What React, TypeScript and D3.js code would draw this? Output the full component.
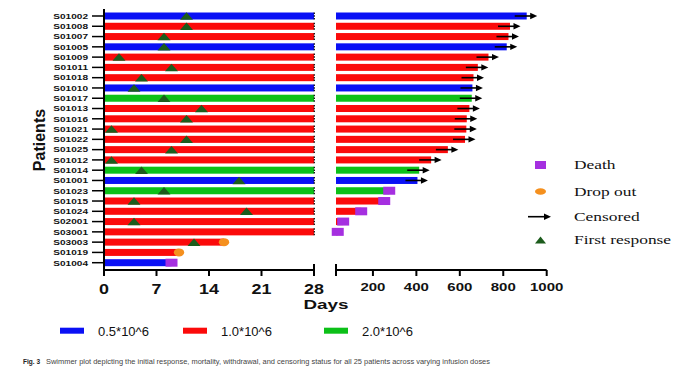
import * as d3 from "d3";

const patients = [
  "S01002", "S01008", "S01007", "S01005", "S01009", "S01011", "S01018", "S01010",
  "S01017", "S01013", "S01016", "S01021", "S01022", "S01025", "S01012", "S01014",
  "S01001", "S01023", "S01015", "S01024", "S02001", "S03001", "S03003", "S01019", "S01004",
];
const doses = [
  "0.5", "1.0", "1.0", "0.5", "1.0", "1.0", "1.0", "0.5",
  "2.0", "1.0", "1.0", "1.0", "1.0", "1.0", "1.0", "2.0",
  "0.5", "2.0", "1.0", "1.0", "1.0", "1.0", "1.0", "1.0", "0.5",
];
const endDays = [
  908, 831, 824, 816, 732, 683, 663, 658, 655, 644, 632, 630, 624, 545, 468, 413,
  405, 275, 252, 146, 63, 38, 16, 10, 9,
];
const responseDays = [
  11, 11, 8, 8, 2, 9, 5, 4, 8, 13, 11, 1, 11, 9, 1, 5, 18, 8, 4, 19, 4, null, 12, null, null,
];
const outcomes = [
  "censored", "censored", "censored", "censored", "censored", "censored", "censored", "censored",
  "censored", "censored", "censored", "censored", "censored", "censored", "censored", "censored",
  "censored", "death", "death", "death", "death", "death", "dropout", "dropout", "death",
];
const leftTicks = [0, 7, 14, 21, 28];
const rightTicks = [200, 400, 600, 800, 1000];
const doseKeys = ["0.5", "1.0", "2.0"];
const doseLabels = ["0.5*10^6", "1.0*10^6", "2.0*10^6"];
const markerLabels = ["Death", "Drop out", "Censored", "First response"];

const doseColor: Record<string, string> = { "0.5": "#0a10f5", "1.0": "#fb0a0a", "2.0": "#0cc018" };
const purple = "#a52fe0";
const orange = "#f5901e";
const darkGreen = "#1c5c1c";
const sans = "'Liberation Sans', Arial, sans-serif";
const serif = "'Liberation Serif', 'Times New Roman', serif";

const SText = ({ x, y, sx = 1, anchor = "start", children, ...rest }: any) => (
  <text transform={`translate(${x},${y}) scale(${sx},1)`} textAnchor={anchor} {...rest}>
    {children}
  </text>
);

const Arrow = ({ x1, x2, y }: { x1: number; x2: number; y: number }) => (
  <g>
    <line x1={x1} x2={x2 - 5} y1={y} y2={y} stroke="black" strokeWidth={1.6} />
    <path d={`M${x2 - 7},${y - 3.2}L${x2},${y}L${x2 - 7},${y + 3.2}Z`} fill="black" />
  </g>
);

const Tri = ({ cx, cy, w, h }: { cx: number; cy: number; w: number; h: number }) => (
  <path d={`M${cx - w / 2},${cy + h / 2}L${cx},${cy - h / 2}L${cx + w / 2},${cy + h / 2}Z`} fill={darkGreen} />
);

export default function App() {
  const W = 682, H = 371;
  const y = d3.scalePoint<string>().domain(patients).range([16, 262.7]);
  const xL = d3.scaleLinear().domain([0, 28]).range([104, 314]);
  const xR = d3.scaleLinear().domain([30, 1000]).range([336, 546.7]);
  const barH = 7;
  const axisY = 270;

  const rows = patients.map((p, i) => ({
    p, dose: doses[i], end: endDays[i], resp: responseDays[i], out: outcomes[i],
  }));
  const xEnd = (v: number) => (v > 30 ? xR(v) : xL(Math.min(v, 28)));

  return (
    <svg width={W} height={H} style={{ position: "absolute", left: 0, top: 0, background: "white" }}>
      {/* bars */}
      {rows.map((d) => (
        <g key={d.p}>
          <rect x={xL(0)} y={y(d.p)! - barH / 2} width={xL(Math.min(d.end, 28)) - xL(0)} height={barH}
            fill={doseColor[d.dose]} />
          {d.end > 30 && (
            <rect x={xR(30)} y={y(d.p)! - barH / 2} width={xR(d.end) - xR(30)} height={barH}
              fill={doseColor[d.dose]} />
          )}
          {d.end >= 28 && (
            <line x1={xL(28) + 0.3} x2={xL(28) + 0.3} y1={y(d.p)! - barH / 2} y2={y(d.p)! + barH / 2}
              stroke="#111" strokeWidth={1.3} strokeDasharray="1.5,1.2" />
          )}
        </g>
      ))}

      {/* markers */}
      {rows.map((d) => {
        const cy = y(d.p)!;
        const ex = xEnd(d.end);
        return (
          <g key={"m" + d.p}>
            {d.resp != null && <Tri cx={xL(d.resp)} cy={cy} w={13} h={7.5} />}
            {d.out === "death" && <rect x={ex - 6} y={cy - 4} width={12} height={8} fill={purple} />}
            {d.out === "dropout" && <ellipse cx={ex} cy={cy} rx={5.2} ry={4} fill={orange} />}
            {d.out === "censored" && <Arrow x1={ex - 12} x2={ex + 10.5} y={cy} />}
          </g>
        );
      })}

      {/* y axis */}
      <line x1={104} x2={104} y1={9} y2={axisY + 6} stroke="black" strokeWidth={2} />
      {patients.map((p) => (
        <g key={"t" + p}>
          <line x1={92} x2={104} y1={y(p)} y2={y(p)} stroke="black" strokeWidth={1.5} />
          <SText x={88} y={y(p)! + 2.8} sx={1.26} anchor="end" fontFamily={sans} fontWeight="bold" fontSize={8}
            fill="#111">{p}</SText>
        </g>
      ))}
      <text transform="translate(45,140) rotate(-90)" textAnchor="middle" fontFamily={sans} fontWeight="bold"
        fontSize={16} fill="#111">Patients</text>

      {/* left x axis */}
      <line x1={xL(0)} x2={xL(28)} y1={axisY} y2={axisY} stroke="black" strokeWidth={2} />
      {leftTicks.map((t, i) => (
        <g key={"lt" + t}>
          <line x1={xL(t)} x2={xL(t)} y1={i === leftTicks.length - 1 ? axisY - 6 : axisY} y2={axisY + 6}
            stroke="black" strokeWidth={2} />
          <SText x={xL(t)} y={293.5} sx={1.28} anchor="middle" fontFamily={sans} fontWeight="bold" fontSize={14}
            fill="#111">{t}</SText>
        </g>
      ))}

      {/* right x axis */}
      <line x1={xR(30)} x2={xR(1000)} y1={axisY} y2={axisY} stroke="black" strokeWidth={2} />
      <line x1={xR(30)} x2={xR(30)} y1={axisY - 6} y2={axisY + 6} stroke="black" strokeWidth={2} />
      {rightTicks.map((t) => (
        <g key={"rt" + t}>
          <line x1={xR(t)} x2={xR(t)} y1={axisY} y2={axisY + 6} stroke="black" strokeWidth={2} />
          <SText x={xR(t)} y={291} sx={1.5} anchor="middle" fontFamily={sans} fontWeight="bold" fontSize={10}
            fill="#111">{t}</SText>
        </g>
      ))}
      <SText x={326} y={309} sx={1.45} anchor="middle" fontFamily={sans} fontWeight="bold" fontSize={13}
        fill="#111">Days</SText>

      {/* marker legend */}
      {markerLabels.map((m, i) => {
        const ly = [165, 191.5, 216.7, 240][i];
        return (
          <g key={"ml" + m}>
            {i === 0 && <rect x={535} y={ly - 4} width={11} height={8} fill={purple} />}
            {i === 1 && <ellipse cx={540.5} cy={ly} rx={5.5} ry={3.2} fill={orange} />}
            {i === 2 && <Arrow x1={528} x2={551} y={ly} />}
            {i === 3 && <Tri cx={540.5} cy={ly} w={11} h={7} />}
            <SText x={574} y={ly + 4} sx={1.45} fontFamily={serif} fontSize={12} fill="#111">{m}</SText>
          </g>
        );
      })}

      {/* dose legend */}
      {doseKeys.map((k, i) => {
        const lx = [60, 183, 324][i];
        return (
          <g key={"dl" + k}>
            <rect x={lx} y={327.7} width={24} height={6} fill={doseColor[k]} />
            <text x={lx + 38} y={335.5} fontFamily={sans} fontSize={13} fill="#111">{doseLabels[i]}</text>
          </g>
        );
      })}

      {/* caption */}
      <text x={23} y={364} fontFamily={sans} fontWeight="bold" fontSize={7} fill="#222" textLength={17}
        lengthAdjust="spacingAndGlyphs">Fig. 3</text>
      <text x={46} y={364} fontFamily={sans} fontSize={7} fill="#444" textLength={444}
        lengthAdjust="spacingAndGlyphs">
        Swimmer plot depicting the initial response, mortality, withdrawal, and censoring status for all 25 patients across varying infusion doses
      </text>
    </svg>
  );
}
